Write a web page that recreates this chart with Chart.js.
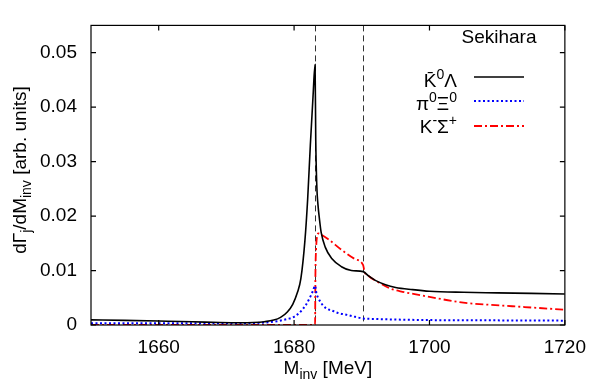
<!DOCTYPE html>
<html>
<head>
<meta charset="utf-8">
<script src="https://cdn.jsdelivr.net/npm/chart.js@4/dist/chart.umd.min.js"></script>
<style>
  html, body { margin: 0; padding: 0; background: #fff; }
  #wrap { width: 597px; height: 384px; }
</style>
</head>
<body>
<div id="wrap"><canvas id="spectrum"></canvas></div>
<script>
// K̄0 Λ channel
const mKL = [1650, 1655, 1660, 1665, 1669, 1672, 1674, 1675.6, 1677, 1678, 1679, 1679.8, 1680.5, 1681,
  1681.6, 1682, 1682.4, 1682.8, 1683.1, 1683.2, 1683.37, 1683.52, 1683.76, 1684, 1684.6, 1685.56, 1687,
  1688.46, 1690.2, 1691, 1692, 1693.5, 1695, 1697.5, 1700, 1705, 1710, 1715, 1720];
const rateKL = [0.00095, 0.00085, 0.00073, 0.0006, 0.00045, 0.0004, 0.00045, 0.0006, 0.0009, 0.0014, 0.0024, 0.0038, 0.006, 0.0085,
  0.0155, 0.023, 0.033, 0.042, 0.0478, 0.034, 0.0251, 0.0222, 0.0193, 0.017, 0.0143, 0.0122, 0.0107,
  0.01, 0.0098, 0.009, 0.0082, 0.0074, 0.0069, 0.0065, 0.0062, 0.006, 0.0059, 0.0058, 0.0057];

// π0 Ξ0 channel
const mPiXi = [1650, 1660, 1670, 1675, 1677.5, 1679, 1680, 1681, 1681.8, 1682.4, 1682.8, 1683.1, 1683.3, 1683.6,
  1684.2, 1684.8, 1685.5, 1686.5, 1687.7, 1689, 1690.2, 1692, 1695, 1700, 1710, 1720];
const ratePiXi = [0.0003, 0.0003, 0.0003, 0.0004, 0.0007, 0.0011, 0.0015, 0.0025, 0.0038, 0.0052, 0.0063, 0.0072, 0.0058, 0.0049,
  0.0037, 0.003, 0.0027, 0.0022, 0.0019, 0.0015, 0.0012, 0.0011, 0.001, 0.0009, 0.00085, 0.0008];

// K- Σ+ channel
const mKSigma = [1650, 1683.1, 1683.15, 1683.25, 1683.4, 1683.6, 1684, 1685, 1687, 1689, 1690.2,
  1690.4, 1691, 1692.5, 1694.2, 1696, 1699, 1702, 1705, 1709, 1714, 1720];
const rateKSigma = [0, 0, 0.009, 0.014, 0.0163, 0.0168, 0.0166, 0.0158, 0.0138, 0.0121, 0.011,
  0.0098, 0.009, 0.0078, 0.0067, 0.0061, 0.0054, 0.0047, 0.0041, 0.0037, 0.0033, 0.0028];

const xTicks = [1660, 1680, 1700, 1720];
const yTicks = [0, 0.01, 0.02, 0.03, 0.04, 0.05];
const thresholds = [1683.1, 1690.2];

// label pieces: [text, 0 normal / 1 superscript / -1 subscript]
const labelKL = [['K\u0304', 0], ['0', 1], ['Λ', 0]];
const labelPiXi = [['π', 0], ['0', 1], ['Ξ', 0], ['0', 1]];
const labelKSigma = [['K', 0], ['-', 1], ['Σ', 0], ['+', 1]];
const legendTitle = 'Sekihara';
const xTitle = [['M', 0], ['inv', -1], [' [MeV]', 0]];
const yTitle = [['dΓ', 0], ['j', -1], ['/dM', 0], ['inv', -1], [' [arb. units]', 0]];

const FAMILY = '"Liberation Sans", Arial, Helvetica, sans-serif';
const FS = 19;

function pts(xs, ys) {
  return xs.map((x, i) => ({ x, y: ys[i] }));
}

function drawRich(ctx, parts, x, y, size, align) {
  const small = Math.round(size * 0.72);
  let w = 0;
  for (const [t, k] of parts) {
    ctx.font = `${k ? small : size}px ${FAMILY}`;
    w += ctx.measureText(t).width;
  }
  let cx = align === 'center' ? x - w / 2 : align === 'right' ? x - w : x;
  ctx.textAlign = 'left';
  ctx.textBaseline = 'alphabetic';
  for (const [t, k] of parts) {
    ctx.font = `${k ? small : size}px ${FAMILY}`;
    const dy = k > 0 ? -size * 0.42 : k < 0 ? size * 0.28 : 0;
    ctx.fillText(t, cx, y + dy);
    cx += ctx.measureText(t).width;
  }
}

const decor = {
  id: 'decor',
  beforeDatasetsDraw(chart) {
    const { ctx, chartArea: a, scales: { x } } = chart;
    ctx.save();
    ctx.strokeStyle = '#333';
    ctx.lineWidth = 1;
    ctx.setLineDash([6, 4]);
    for (const t of thresholds) {
      const px = Math.round(x.getPixelForValue(t)) + 0.5;
      ctx.beginPath();
      ctx.moveTo(px, a.top);
      ctx.lineTo(px, a.bottom);
      ctx.stroke();
    }
    ctx.restore();
  },
  afterDatasetsDraw(chart) {
    const { ctx, chartArea: a, scales: { x, y } } = chart;
    ctx.save();
    ctx.strokeStyle = '#000';
    ctx.lineWidth = 1.2;
    ctx.strokeRect(a.left, a.top, a.right - a.left, a.bottom - a.top);
    const tl = 5;
    ctx.beginPath();
    for (const v of xTicks) {
      const px = x.getPixelForValue(v);
      ctx.moveTo(px, a.bottom); ctx.lineTo(px, a.bottom - tl);
      ctx.moveTo(px, a.top); ctx.lineTo(px, a.top + tl);
    }
    for (const v of yTicks) {
      const py = y.getPixelForValue(v);
      ctx.moveTo(a.left, py); ctx.lineTo(a.left + tl, py);
      ctx.moveTo(a.right, py); ctx.lineTo(a.right - tl, py);
    }
    ctx.stroke();

    // legend
    ctx.fillStyle = '#000';
    ctx.font = `${FS}px ${FAMILY}`;
    ctx.textAlign = 'center';
    ctx.textBaseline = 'alphabetic';
    ctx.fillText(legendTitle, 499, 43);
    const rows = [[labelKL, 77, 87], [labelPiXi, 101, 110], [labelKSigma, 126, 133]];
    chart.data.datasets.forEach((ds, i) => {
      const [parts, ly, by] = rows[i];
      drawRich(ctx, parts, 457, by, FS, 'right');
      ctx.strokeStyle = ds.borderColor;
      ctx.lineWidth = ds.borderWidth;
      ctx.setLineDash(ds.borderDash || []);
      ctx.beginPath();
      ctx.moveTo(474, ly);
      ctx.lineTo(524, ly);
      ctx.stroke();
      ctx.setLineDash([]);
    });

    // axis titles
    drawRich(ctx, xTitle, (a.left + a.right) / 2, 374, FS, 'center');
    ctx.translate(26, 170);
    ctx.rotate(-Math.PI / 2);
    drawRich(ctx, yTitle, 0, 0, FS, 'center');
    ctx.restore();
  }
};

const common = { pointRadius: 0, fill: false, cubicInterpolationMode: 'monotone' };

new Chart(document.getElementById('spectrum'), {
  type: 'line',
  data: {
    datasets: [
      { ...common, label: 'K̄0Λ', data: pts(mKL, rateKL), borderColor: '#000000', borderWidth: 1.6 },
      { ...common, label: 'π0Ξ0', data: pts(mPiXi, ratePiXi), borderColor: '#0000ff', borderWidth: 2, borderDash: [2, 2.5] },
      { ...common, label: 'K-Σ+', data: pts(mKSigma, rateKSigma), borderColor: '#ff0000', borderWidth: 1.8, borderDash: [8, 3, 2, 3] },
    ],
  },
  options: {
    responsive: true, maintainAspectRatio: false, animation: false, devicePixelRatio: 1,
    layout: { padding: { top: 7, right: 25, left: 0, bottom: 0 } },
    plugins: { legend: { display: false }, tooltip: { enabled: false } },
    scales: {
      x: {
        type: 'linear', min: 1650, max: 1720,
        afterFit: s => { s.height = 59; },
        afterBuildTicks: s => { s.ticks = xTicks.map(v => ({ value: v })); },
        grid: { display: false, drawTicks: false }, border: { display: false },
        ticks: {
          font: { size: FS, family: FAMILY }, color: '#000', padding: 11, maxRotation: 0, autoSkip: false,
          callback: v => String(v),
        },
      },
      y: {
        min: 0, max: 0.055,
        afterFit: s => { s.width = 91; },
        afterBuildTicks: s => { s.ticks = yTicks.map(v => ({ value: v })); },
        grid: { display: false, drawTicks: false }, border: { display: false },
        ticks: {
          font: { size: FS, family: FAMILY }, color: '#000', padding: 14,
          callback: v => (v === 0 ? '0' : v.toFixed(2)),
        },
      },
    },
  },
  plugins: [decor],
});
</script>
</body>
</html>
